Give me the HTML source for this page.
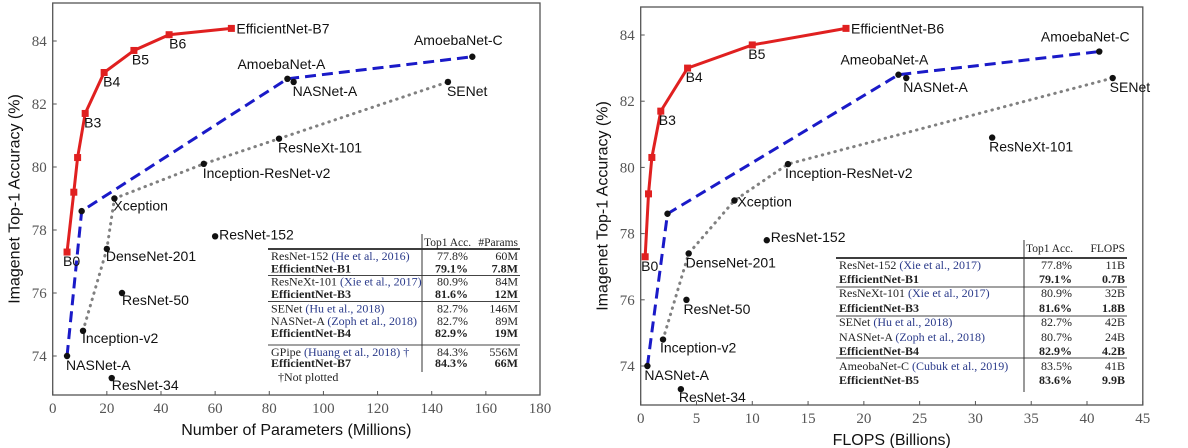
<!DOCTYPE html>
<html><head><meta charset="utf-8">
<style>
body{margin:0;background:#fff;width:1188px;height:448px;overflow:hidden}
svg{display:block}
.tk{font-family:"Liberation Serif",serif;font-size:15px;fill:#555}
.lb{font-family:"Liberation Sans",sans-serif;font-size:14px;fill:#111}
.ax{font-family:"Liberation Sans",sans-serif;font-size:16px;fill:#111}
.tb{font-family:"Liberation Serif",serif;font-size:12px;fill:#222}
.th{font-family:"Liberation Serif",serif;font-size:11.5px;fill:#222}
.b{font-weight:bold}
.cite{fill:#2a3a8a}
</style></head><body>
<svg id="fig" width="1188" height="448" xmlns="http://www.w3.org/2000/svg"></svg>
<script>
// ---------- Left chart data (params, millions) ----------
const L_effX=[5.3,7.8,9.2,12,19,30,43,66];
const L_effY=[77.3,79.2,80.3,81.7,83.0,83.7,84.2,84.4];
const L_blueX=[5.3,10.7,86.7,155];
const L_blueY=[74.0,78.6,82.8,83.5];
const L_greyX=[11.2,20,22.8,55.8,83.6,146];
const L_greyY=[74.8,77.4,79.0,80.1,80.9,82.7];
const L_otherX=[60,25.6,21.8,89];
const L_otherY=[77.8,76.0,73.3,82.7];
const L_xTicks=[0,20,40,60,80,100,120,140,160,180];
const L_yTicks=[74,76,78,80,82,84];
const L_labels=[
 ["EfficientNet-B7",66,84.4,5,0,"start"],["B6",43,84.2,0,14,"start"],["B5",30,83.7,-2,14,"start"],
 ["B4",19,83.0,-1,14,"start"],["B3",12,81.7,-1,14,"start"],["B0",5.3,77.3,-4,14,"start"],
 ["NASNet-A",5.3,74.0,-1,14,"start"],["AmoebaNet-A",86.7,82.8,-6,-10,"middle"],["NASNet-A",89,82.7,-1,14,"start"],
 ["AmoebaNet-C",155,83.5,-14,-12,"middle"],["SENet",146,82.7,-1,14,"start"],["ResNeXt-101",83.6,80.9,-1,14,"start"],
 ["Inception-ResNet-v2",55.8,80.1,-1,14,"start"],["Xception",22.8,79.0,-1,12,"start"],["ResNet-152",60,77.8,4,-2,"start"],
 ["DenseNet-201",20,77.4,-1,12,"start"],["ResNet-50",25.6,76.0,0,12,"start"],["Inception-v2",11.2,74.8,-1,12,"start"],
 ["ResNet-34",21.8,73.3,0,12,"start"]];
const L_tableHead=["Top1 Acc.","#Params"];
const L_tableRows=[["ResNet-152"," (He et al., 2016)","77.8%","60M",0],["EfficientNet-B1","","79.1%","7.8M",1],
 ["ResNeXt-101"," (Xie et al., 2017)","80.9%","84M",0],["EfficientNet-B3","","81.6%","12M",1],
 ["SENet"," (Hu et al., 2018)","82.7%","146M",0],["NASNet-A"," (Zoph et al., 2018)","82.7%","89M",0],["EfficientNet-B4","","82.9%","19M",1],
 ["GPipe"," (Huang et al., 2018) †","84.3%","556M",0],["EfficientNet-B7","","84.3%","66M",1]];

// ---------- Right chart data (FLOPS, billions) ----------
const R_effX=[0.4,0.7,1.0,1.8,4.2,10.0,18.4];
const R_effY=[77.3,79.2,80.3,81.7,83.0,83.7,84.2];
const R_blueX=[0.6,2.4,23.1,41.1];
const R_blueY=[74.0,78.6,82.8,83.5];
const R_greyX=[2.0,4.3,8.4,13.2,42.3];
const R_greyY=[74.8,77.4,79.0,80.1,82.7];
const R_otherX=[31.5,11.3,4.1,3.6,23.8];
const R_otherY=[80.9,77.8,76.0,73.3,82.7];
const R_xTicks=[0,5,10,15,20,25,30,35,40,45];
const R_yTicks=[74,76,78,80,82,84];
const R_labels=[
 ["EfficientNet-B6",18.4,84.2,5,0,"start"],["B5",10.0,83.7,-4,14,"start"],["B4",4.2,83.0,-2,14,"start"],
 ["B3",1.8,81.7,-2,14,"start"],["B0",0.4,77.3,-4,14,"start"],["NASNet-A",0.6,74.0,-3,14,"start"],
 ["AmeobaNet-A",23.1,82.8,-14,-10,"middle"],["NASNet-A",23.8,82.7,-3,14,"start"],["AmoebaNet-C",41.1,83.5,-14,-10,"middle"],
 ["SENet",42.3,82.7,-3,14,"start"],["ResNeXt-101",31.5,80.9,-3,14,"start"],["Inception-ResNet-v2",13.2,80.1,-3,14,"start"],
 ["Xception",8.4,79.0,3,6,"start"],["ResNet-152",11.3,77.8,4,-3,"start"],["DenseNet-201",4.3,77.4,-3,14,"start"],
 ["ResNet-50",4.1,76.0,-3,14,"start"],["Inception-v2",2.0,74.8,-3,13,"start"],
 ["ResNet-34",3.6,73.3,-2,13,"start"]];
const R_tableHead=["Top1 Acc.","FLOPS"];
const R_tableRows=[["ResNet-152"," (Xie et al., 2017)","77.8%","11B",0],["EfficientNet-B1","","79.1%","0.7B",1],
 ["ResNeXt-101"," (Xie et al., 2017)","80.9%","32B",0],["EfficientNet-B3","","81.6%","1.8B",1],
 ["SENet"," (Hu et al., 2018)","82.7%","42B",0],["NASNet-A"," (Zoph et al., 2018)","80.7%","24B",0],["EfficientNet-B4","","82.9%","4.2B",1],
 ["AmeobaNet-C"," (Cubuk et al., 2019)","83.5%","41B",0],["EfficientNet-B5","","83.6%","9.9B",1]];

const NS="http://www.w3.org/2000/svg";
const svg=document.getElementById('fig');
function mk(tag,attrs,parent,text){const e=document.createElementNS(NS,tag);for(const k in attrs)e.setAttribute(k,attrs[k]);if(text!==undefined)e.textContent=text;(parent||svg).appendChild(e);return e;}

function chart(cfg){
  const g=mk('g',{});
  
  
  const sx=v=>cfg.x0+(v-cfg.xmin)/(cfg.xmax-cfg.xmin)*(cfg.x1-cfg.x0);
  const sy=v=>cfg.ya+(v-84)/(74-84)*(cfg.yb-cfg.ya);
  const fr=mk('rect',{x:cfg.x0,y:cfg.top,width:cfg.x1-cfg.x0,height:cfg.bot-cfg.top,fill:'none',stroke:'#555','stroke-width':1.3},g);
  
  
  cfg.xt.forEach(v=>{
    mk('line',{x1:sx(v),x2:sx(v),y1:cfg.bot,y2:cfg.bot-4,stroke:'#555'},g);
    const t=mk('text',{x:sx(v),y:cfg.bot+18,'text-anchor':'middle',class:'tk'},g,String(v));
    
    
  });
  cfg.yt.forEach(v=>{
    mk('line',{x1:cfg.x0,x2:cfg.x0+4,y1:sy(v),y2:sy(v),stroke:'#555'},g);
    const t=mk('text',{x:cfg.x0-6,y:sy(v)+5,'text-anchor':'end',class:'tk'},g,String(v));
    
    
  });
  const xa=mk('text',{x:(cfg.x0+cfg.x1)/2,y:cfg.bot+40,'text-anchor':'middle',class:'ax'},g,cfg.xTitle);
  
  
  const ya=mk('text',{x:0,y:0,'text-anchor':'middle',class:'ax',transform:`translate(${cfg.x0-33},${(cfg.top+cfg.bot)/2}) rotate(-90)`},g,'Imagenet Top-1 Accuracy (%)');
  
  
  const pts=(xs,ys)=>xs.map((x,i)=>sx(x)+','+sy(ys[i])).join(' ');
  const gl=mk('polyline',{points:pts(cfg.gx,cfg.gy),fill:'none',stroke:'#808080','stroke-width':3,'stroke-dasharray':'0.5 6','stroke-linecap':'round'},g);
  
  
  const bl=mk('polyline',{points:pts(cfg.bx,cfg.by),fill:'none',stroke:'#1a1ac8','stroke-width':3,'stroke-dasharray':'11 6'},g);
  
  
  const rl=mk('polyline',{points:pts(cfg.ex,cfg.ey),fill:'none',stroke:'#e02020','stroke-width':3},g);
  
  
  cfg.ex.forEach((x,i)=>{
    const r=mk('rect',{x:sx(x)-3.5,y:sy(cfg.ey[i])-3.5,width:7,height:7,fill:'#e02020'},g);
    
    
  });
  const dots=[[cfg.bx,cfg.by],[cfg.gx,cfg.gy],[cfg.ox,cfg.oy]];
  dots.forEach(([xs,ys])=>xs.forEach((x,i)=>{
    const c=mk('circle',{cx:sx(x),cy:sy(ys[i]),r:3.2,fill:'#111'},g);
    
    
  }));
  cfg.labels.forEach(l=>{
    const t=mk('text',{x:sx(l[1])+l[3],y:sy(l[2])+l[4]+(l[4]<=0&&l[5]==='start'?5:0),'text-anchor':l[5],class:'lb'},g,l[0]);
    
    
  });
  const T=cfg.tab;
  const tg=mk('g',{},g);
  
  
  mk('text',{x:T.div+2,y:T.headY,class:'th'},tg,cfg.head[0]);
  mk('text',{x:T.right-2,y:T.headY,'text-anchor':'end',class:'th'},tg,cfg.head[1]);
  mk('line',{x1:T.left,x2:T.right,y1:T.thick,y2:T.thick,stroke:'#222','stroke-width':1.8},tg);
  T.seps.forEach(y=>mk('line',{x1:T.left,x2:T.right,y1:y,y2:y,stroke:'#444','stroke-width':1},tg));
  mk('line',{x1:T.div,x2:T.div,y1:T.headY-12,y2:T.divEnd,stroke:'#333','stroke-width':1},tg);
  cfg.rows.forEach((r,i)=>{
    const y=T.rowsY[i];
    const t=mk('text',{x:T.left+3,y:y,class:'tb'+(r[4]?' b':'')},tg);
    mk('tspan',{},t,r[0]);
    if(r[1])mk('tspan',{class:'cite'},t,r[1]);
    mk('text',{x:T.acc,y:y,'text-anchor':'end',class:'tb'+(r[4]?' b':'')},tg,r[2]);
    mk('text',{x:T.right-2,y:y,'text-anchor':'end',class:'tb'+(r[4]?' b':'')},tg,r[3]);
  });
  if(T.note)mk('text',{x:T.left+10,y:T.note,class:'tb'},tg,'†Not plotted');
}

chart({name:'params-chart',x0:52.7,x1:540,xmin:0,xmax:180,top:3,bot:395,ya:41,yb:356,
 xt:L_xTicks,yt:L_yTicks,xTitle:'Number of Parameters (Millions)',
 ex:L_effX,ey:L_effY,bx:L_blueX,by:L_blueY,gx:L_greyX,gy:L_greyY,ox:L_otherX,oy:L_otherY,labels:L_labels,
 head:L_tableHead,rows:L_tableRows,
 tab:{left:268,right:520,div:422,acc:468,headY:246,thick:249,seps:[275.5,301.5,345],divEnd:372,
  rowsY:[260,272.5,285.5,298,312.5,325,337,356,367],note:381}});

chart({name:'flops-chart',x0:640.7,x1:1142.8,xmin:0,xmax:45,top:7,bot:405,ya:35,yb:366,
 xt:R_xTicks,yt:R_yTicks,xTitle:'FLOPS (Billions)',
 ex:R_effX,ey:R_effY,bx:R_blueX,by:R_blueY,gx:R_greyX,gy:R_greyY,ox:R_otherX,oy:R_otherY,labels:R_labels,
 head:R_tableHead,rows:R_tableRows,
 tab:{left:836,right:1127,div:1024,acc:1072,headY:252,thick:258,seps:[287,316,358],divEnd:392,
  rowsY:[269,283,297,312,326,341,355,370,384],note:0}});
</script>
</body></html>
